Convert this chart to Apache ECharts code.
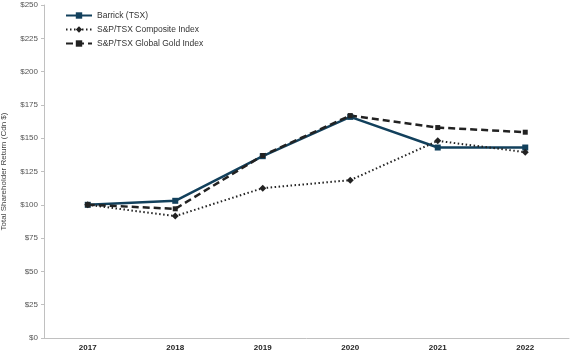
<!DOCTYPE html>
<html>
<head>
<meta charset="utf-8">
<style>html,body{margin:0;padding:0;background:#fff}#chart{width:571px;height:353px}</style>
<script src="https://cdn.jsdelivr.net/npm/echarts@6/dist/echarts.min.js"></script>
</head>
<body>
<div id="chart"></div>
<script>
let years = ['2017', '2018', '2019', '2020', '2021', '2022']
let barrick = [100, 103, 136.5, 166, 143, 143]
let composite = [100, 91.5, 112.5, 118.5, 148, 139.5]
let gold = [100, 97, 137, 167, 158, 154.5]

let chart = echarts.init(document.getElementById('chart'), null, { renderer: 'canvas' })
let option = {
  animation: false,
  textStyle: { fontFamily: 'Liberation Sans, Arial, sans-serif' },
  grid: { left: 44, right: 2, top: 5, bottom: 15, outerBoundsMode: 'none' },
  legend: {
    orient: 'vertical',
    left: 60,
    top: 6,
    itemGap: 5,
    itemWidth: 26,
    itemHeight: 8,
    textStyle: { fontSize: 8.5, color: '#333' },
    data: ['Barrick (TSX)', 'S&P/TSX Composite Index', 'S&P/TSX Global Gold Index']
  },
  xAxis: {
    type: 'category',
    data: years,
    axisLine: { lineStyle: { color: '#c0c0c0' } },
    axisTick: { length: 3, lineStyle: { color: '#c0c0c0' } },
    axisLabel: { fontSize: 8, fontWeight: 'bold', color: '#222', margin: 6 }
  },
  yAxis: {
    type: 'value',
    min: 0,
    max: 250,
    interval: 25,
    name: 'Total Shareholder Return (Cdn $)',
    nameLocation: 'middle',
    nameGap: 36,
    nameTextStyle: { fontSize: 8, color: '#444' },
    splitLine: { show: false },
    axisLine: { show: true, lineStyle: { color: '#c0c0c0' } },
    axisTick: { show: true, length: 3, lineStyle: { color: '#c0c0c0' } },
    axisLabel: { fontSize: 8, color: '#555', margin: 6, formatter: '${value}' }
  },
  series: [
    {
      name: 'Barrick (TSX)',
      type: 'line',
      data: barrick,
      symbol: 'rect',
      symbolSize: 6,
      z: 3,
      lineStyle: { color: '#12405c', width: 2.5 },
      itemStyle: { color: '#12405c' }
    },
    {
      name: 'S&P/TSX Composite Index',
      type: 'line',
      data: composite,
      symbol: 'diamond',
      symbolSize: 7,
      lineStyle: { color: '#222', width: 2, type: [1.5, 2.5] },
      itemStyle: { color: '#222' }
    },
    {
      name: 'S&P/TSX Global Gold Index',
      type: 'line',
      data: gold,
      symbol: 'rect',
      symbolSize: 5,
      lineStyle: { color: '#222', width: 2.5, type: [7, 4] },
      itemStyle: { color: '#222' }
    }
  ]
}
chart.setOption(option)
</script>
</body>
</html>
